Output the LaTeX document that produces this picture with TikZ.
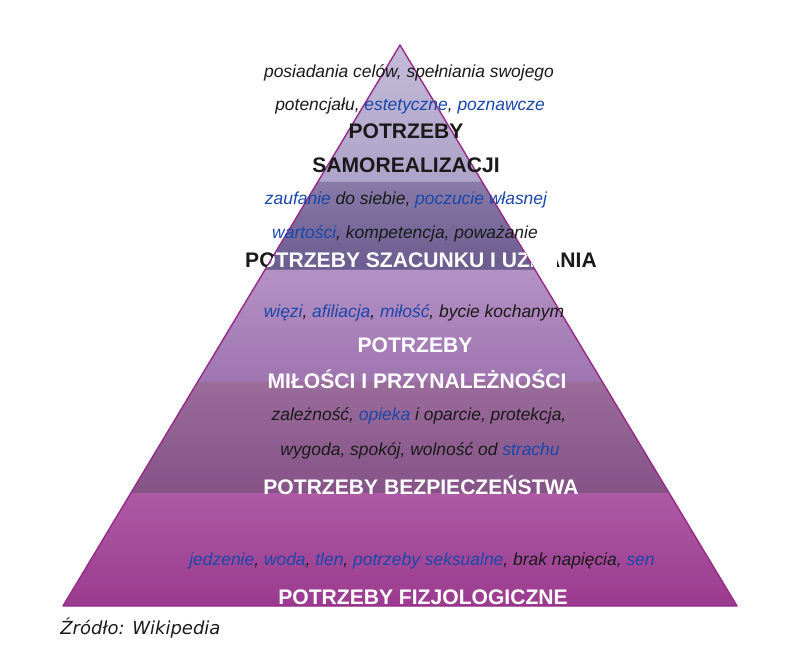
\documentclass[tikz,border=0pt]{standalone}
\usepackage{fontspec}
\setmainfont{Liberation Sans}
\newfontfamily\srcfont{DejaVu Sans}
\usetikzlibrary{calc}

\definecolor{edgepurple}{HTML}{962A86}
\definecolor{needblue}{HTML}{1A47AA}
\definecolor{needblack}{HTML}{1A1A1A}
% band colours, top to bottom (top, bottom, sides)
\definecolor{bandAt}{HTML}{DAD6EA}\definecolor{bandAb}{HTML}{B2A8CC}\definecolor{bandAe}{HTML}{A89CC4}
\definecolor{bandBt}{HTML}{A294BE}\definecolor{bandBb}{HTML}{6E5E92}\definecolor{bandBe}{HTML}{6A5A8C}
\definecolor{bandCt}{HTML}{CCB4DC}\definecolor{bandCb}{HTML}{A680B8}\definecolor{bandCe}{HTML}{9868A8}
\definecolor{bandDt}{HTML}{AE84B0}\definecolor{bandDb}{HTML}{8A5690}\definecolor{bandDe}{HTML}{82507F}
\definecolor{bandEt}{HTML}{C688BE}\definecolor{bandEb}{HTML}{A84E9A}\definecolor{bandEe}{HTML}{8E2484}

\newcommand\kw[1]{\textcolor{needblue}{#1}}

\tikzset{
  desc/.style={font=\fontsize{12.4}{14}\selectfont\itshape, text=needblack, inner sep=0pt},
  title/.style={font=\fontsize{15}{18}\selectfont\bfseries, inner sep=0pt},
}

\begin{document}
\begin{tikzpicture}[x=0.025cm,y=-0.025cm]
  \useasboundingbox (0,0) rectangle (800,650);
  \coordinate (apex) at (400,45);
  \coordinate (bl) at (63,606);
  \coordinate (br) at (737,606);
  %
  % bands
  \foreach \yt/\yb/\ct/\cb/\ce in {45/182/bandAt/bandAb/bandAe, 182/270/bandBt/bandBb/bandBe,
      270/382/bandCt/bandCb/bandCe, 382/493/bandDt/bandDb/bandDe, 493/606/bandEt/bandEb/bandEe}{
    \pgfmathsetmacro\ta{(\yt-45)/561}
    \pgfmathsetmacro\tb{(\yb-45)/561}
    \shade[top color=\ct, bottom color=\cb,
           postaction={shade, left color=\ce, middle color=\ct, right color=\ce, fill opacity=0.45}]
      ($(apex)!\ta!(bl)$) -- ($(apex)!\tb!(bl)$) -- ($(apex)!\tb!(br)$) -- ($(apex)!\ta!(br)$) -- cycle;
  }
  % outline
  \draw[edgepurple, line width=1pt, line join=round] (apex) -- (bl) -- (br) -- cycle;
  %
  % self-actualisation
  \node[desc] (selfa) at (409,73) {posiadania celów, spełniania swojego};
  \node[desc] (selfb) at (410,106) {potencjału, \kw{estetyczne}, \kw{poznawcze}};
  \node[title, text=needblack] (selft) at (406,131) {POTRZEBY};
  \node[title, text=needblack] (selfu) at (406,165) {SAMOREALIZACJI};
  % esteem
  \node[desc] (esta) at (406,200) {\kw{zaufanie} do siebie, \kw{poczucie własnej}};
  \node[desc] (estb) at (405,234) {\kw{wartości}, kompetencja, poważanie};
  \begin{scope}
    \clip (0,0) -- (apex) -- (bl) -- (0,650) -- cycle
          (557,0) rectangle (800,650);
    \node[title, text=needblack] (estout) at (421,260) {POTRZEBY SZACUNKU I UZNANIA};
  \end{scope}
  \begin{scope}
    \clip (apex) -- (bl) -- (br) -- cycle;
    \node[title, text=white] (estin) at (421,260) {POTRZEBY SZACUNKU I UZNANIA};
  \end{scope}
  % love and belonging
  \node[desc] (lova) at (414,313) {\kw{więzi}, \kw{afiliacja}, \kw{miłość}, bycie kochanym};
  \node[title, text=white] (lovt) at (415,345) {POTRZEBY};
  \node[title, text=white] (lovu) at (417,379) {MIŁOŚCI I PRZYNALEŻNOŚCI};
  % safety
  \node[desc] (safa) at (419,416) {zależność, \kw{opieka} i oparcie, protekcja,};
  \node[desc] (safb) at (420,451) {wygoda, spokój, wolność od \kw{strachu}};
  \node[title, text=white] (saft) at (421,485) {POTRZEBY BEZPIECZEŃSTWA};
  % physiological
  \node[desc] (phya) at (422,561) {\kw{jedzenie}, \kw{woda}, \kw{tlen}, \kw{potrzeby seksualne}, brak napięcia, \kw{sen}};
  \node[title, text=white] (phyt) at (423,597) {POTRZEBY FIZJOLOGICZNE};
  %
  \node[font=\srcfont\fontsize{12.8}{15}\selectfont\itshape, text=needblack, inner sep=0pt, anchor=west]
    (source) at (60,628) {Źródło: Wikipedia};
\end{tikzpicture}
\end{document}
